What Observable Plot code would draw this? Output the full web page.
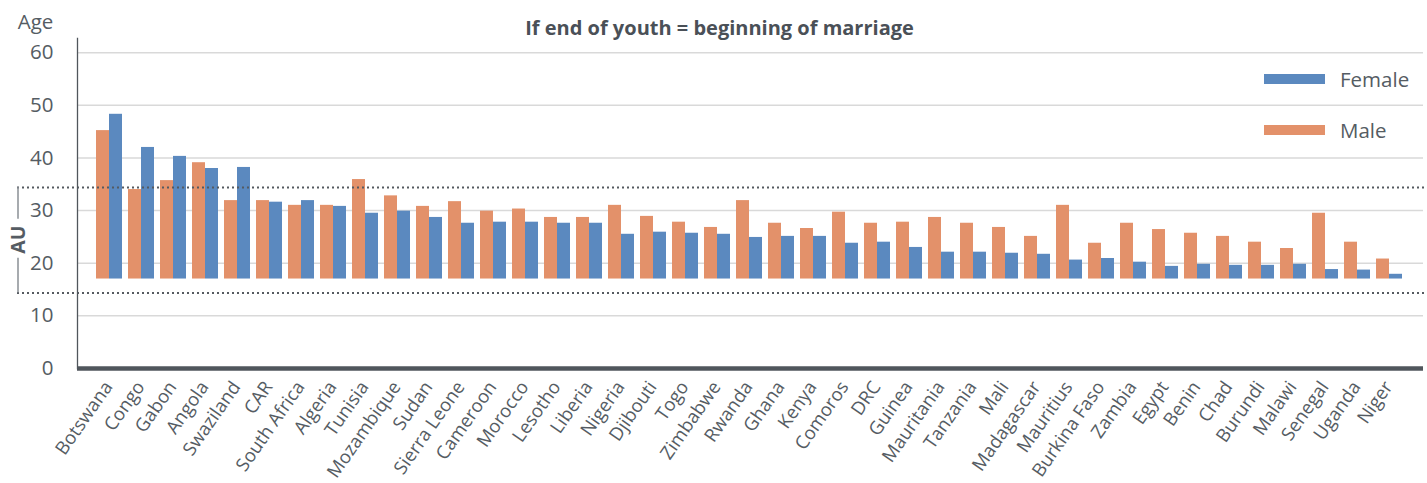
<!DOCTYPE html>
<html><head><meta charset="utf-8">
<script src="https://cdn.jsdelivr.net/npm/d3@7"></script>
<script src="https://cdn.jsdelivr.net/npm/@observablehq/plot@0.6"></script>
<style>body{margin:0;background:#fff;} #chart{width:1427px;height:483px;}</style>
</head><body><div id="chart"></div>
<script>
const countries = ["Botswana","Congo","Gabon","Angola","Swaziland","CAR","South Africa","Algeria","Tunisia","Mozambique","Sudan","Sierra Leone","Cameroon","Morocco","Lesotho","Liberia","Nigeria","Djibouti","Togo","Zimbabwe","Rwanda","Ghana","Kenya","Comoros","DRC","Guinea","Mauritania","Tanzania","Mali","Madagascar","Mauritius","Burkina Faso","Zambia","Egypt","Benin","Chad","Burundi","Malawi","Senegal","Uganda","Niger"];
const male = [45.2,34.0,35.7,39.1,31.9,31.9,31.0,31.0,35.9,32.8,30.8,31.7,29.9,30.3,28.7,28.7,31.0,28.9,27.8,26.8,31.9,27.6,26.6,29.7,27.6,27.8,28.7,27.6,26.8,25.1,31.0,23.8,27.6,26.4,25.7,25.1,24.0,22.8,29.5,24.0,20.8];
const female = [48.3,42.0,40.3,38.0,38.2,31.6,31.9,30.8,29.5,29.9,28.7,27.6,27.8,27.8,27.6,27.6,25.5,25.9,25.7,25.5,24.9,25.1,25.1,23.8,24.0,23.0,22.1,22.1,21.9,21.7,20.6,20.9,20.2,19.4,19.8,19.6,19.6,19.8,18.8,18.7,17.9];
const barBase = 17;
const yTicks = [0,10,20,30,40,50,60];
const auRange = [14.35, 34.4];
const seriesNames = ["Female","Male"];
const title = "If end of youth = beginning of marriage";
const yLabel = "Age";
const bandLabel = "AU";

const colors = {Female:"#5b89bf", Male:"#e3916a"};
const textColor = "#555c63";
const rows = countries.map((c,i)=>({country:c, male:male[i], female:female[i]}));
const auMid = (auRange[0]+auRange[1])/2;

const chart = Plot.plot({
  width:1427, height:483,
  marginLeft:77, marginRight:4, marginTop:38, marginBottom:115,
  style:{fontFamily:"'Open Sans', sans-serif", color:textColor, background:"white", overflow:"visible"},
  x:{domain:countries, range:[82.76,1414.2], paddingInner:0.2, paddingOuter:0.1, label:null},
  y:{domain:[0,62.7], label:null},
  marks:[
    Plot.gridY(yTicks,{stroke:"#d9d9d9", strokeOpacity:1, strokeWidth:1.5}),
    Plot.barY(rows,{x:"country", y1:()=>barBase, y2:"male", fill:colors.Male, insetRight:13}),
    Plot.barY(rows,{x:"country", y1:()=>barBase, y2:"female", fill:colors.Female, insetLeft:13}),
    Plot.ruleY(auRange,{stroke:"#555a60", strokeWidth:2, strokeDasharray:"2,3", insetLeft:-60, insetRight:-4}),
    Plot.ruleY([0],{stroke:"#50565c", strokeWidth:4.5}),
    Plot.frame({anchor:"left", stroke:"#50565c", strokeWidth:1.3}),
    Plot.axisY(yTicks,{tickSize:0, tickPadding:24, fontSize:20.5, label:null}),
    Plot.axisX({tickSize:0, tickRotate:-55, fontSize:18.5, tickPadding:8, dx:-1, dy:7, label:null}),
    Plot.text([title],{frameAnchor:"top", dx:-31, dy:-18, fontSize:20, fontWeight:"bold", fill:"#4a5057"}),
    Plot.text([yLabel],{frameAnchor:"top-left", dx:-42, dy:-24, fontSize:20.5, textAnchor:"middle"})
  ]
});
document.getElementById("chart").appendChild(chart);

// AU bracket, AU label and legend
const svg = d3.select(chart);
const ys = chart.scale("y");
const yTop = ys.apply(auRange[1]), yBot = ys.apply(auRange[0]), yMid = ys.apply(auMid);
svg.append("line").attr("x1",18).attr("x2",18).attr("y1",yTop).attr("y2",yMid-21).attr("stroke","#8a8f94").attr("stroke-width",1.5);
svg.append("line").attr("x1",18).attr("x2",18).attr("y1",yMid+18).attr("y2",yBot).attr("stroke","#8a8f94").attr("stroke-width",1.5);
svg.append("text")
  .attr("transform",`translate(17.5,${yMid}) rotate(-90)`)
  .attr("text-anchor","middle").attr("dy","0.36em")
  .attr("font-size",19.5).attr("font-weight","bold").attr("fill",textColor)
  .attr("font-family","'Open Sans', sans-serif").text(bandLabel);
const legend = svg.append("g");
seriesNames.forEach((name,i)=>{
  const cy = 79 + i*51;
  legend.append("rect").attr("x",1264).attr("y",cy-5).attr("width",61).attr("height",10).attr("fill",colors[name]);
  legend.append("text").attr("x",1340).attr("y",cy+8).attr("text-anchor","start").attr("font-size",20.5).attr("fill",textColor).attr("font-family","'Open Sans', sans-serif").text(name);
});
</script>
</body></html>
